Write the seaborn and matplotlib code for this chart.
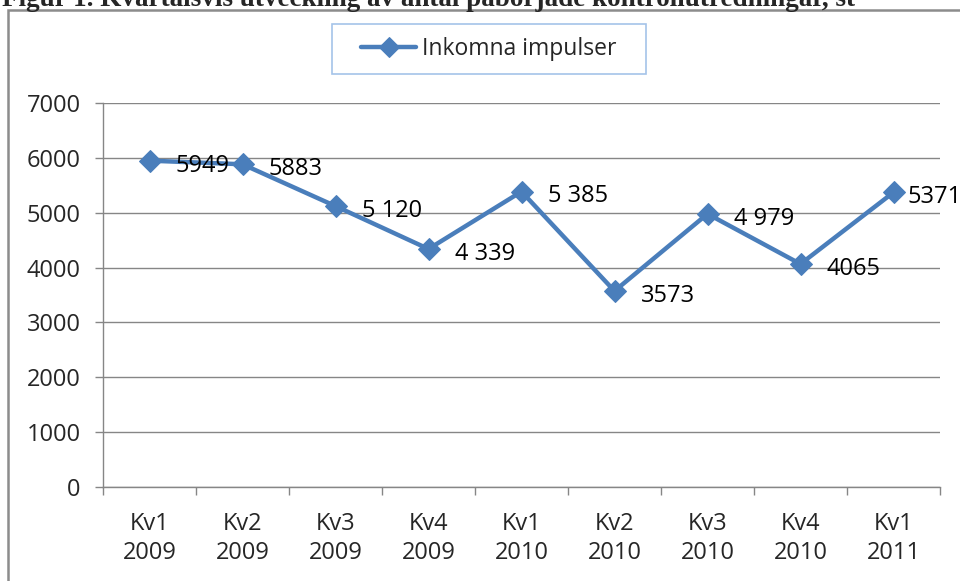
import matplotlib
matplotlib.use('Agg')
import matplotlib.pyplot as plt
import matplotlib.patches as mpatches
import seaborn as sns
import pandas as pd

# Data
quarters = ['Kv1\n2009', 'Kv2\n2009', 'Kv3\n2009', 'Kv4\n2009', 'Kv1\n2010',
            'Kv2\n2010', 'Kv3\n2010', 'Kv4\n2010', 'Kv1\n2011']
impulser = [5949, 5883, 5120, 4339, 5385, 3573, 4979, 4065, 5371]
value_labels = ['5949', '5883', '5 120', '4 339', '5 385', '3573', '4 979', '4065', '5371']
series_name = 'Inkomna impulser'
title = 'Figur 1. Kvartalsvis utveckling av antal påbörjade kontrollutredningar, st'

df = pd.DataFrame({'Kvartal': quarters, 'Antal': impulser})

sns.set_style('white')
plt.rcParams['font.family'] = ['Open Sans', 'DejaVu Sans']

blue = '#4a7ebb'
grid_gray = '#868686'

fig = plt.figure(figsize=(9.6, 5.81), dpi=100)
ax = fig.add_axes([103 / 960, 1 - 487 / 581, 837 / 960, 384 / 581])

sns.lineplot(data=df, x='Kvartal', y='Antal', ax=ax, color=blue, linewidth=3.2,
             marker='D', markersize=11, markeredgecolor=blue, label=series_name,
             sort=False)

# Data labels (the last one is pushed closer so it fits inside the chart)
for i, (v, lab) in enumerate(zip(impulser, value_labels)):
    dx = 10 if i == len(impulser) - 1 else 19
    ax.annotate(lab, (i, v), xytext=(dx, -3.5), textcoords='offset points',
                ha='left', va='center', fontsize=17, color='black',
                annotation_clip=False)

ax.set_xlim(-0.5, len(quarters) - 0.5)
ax.set_ylim(0, 7000)
ax.set_yticks(range(0, 7001, 1000))
ax.set_xlabel('')
ax.set_ylabel('')

ax.yaxis.grid(True, color=grid_gray, linewidth=1)
ax.set_axisbelow(True)
for side in ['top', 'right']:
    ax.spines[side].set_visible(False)
for side in ['left', 'bottom']:
    ax.spines[side].set_color(grid_gray)
    ax.spines[side].set_linewidth(1)

ax.tick_params(axis='y', left=True, length=6, width=1, color=grid_gray,
               pad=10, labelsize=17)
ax.tick_params(axis='x', which='major', length=0, pad=18, labelsize=17)
ax.set_xticks([i + 0.5 for i in range(-1, len(quarters))], minor=True)
ax.tick_params(axis='x', which='minor', bottom=True, length=6, width=1,
               color=grid_gray)
for t in ax.get_xticklabels():
    t.set_linespacing(1.3)

leg = ax.legend(loc='center', bbox_to_anchor=(489 / 960, 1 - 49 / 581),
                bbox_transform=fig.transFigure, fontsize=16.5, frameon=True,
                fancybox=False, handlelength=2.4, handletextpad=0.25,
                borderpad=0, borderaxespad=0)
leg.get_frame().set_edgecolor('#8eb4e3')
leg.get_frame().set_linewidth(1.2)
leg.get_frame().set_boxstyle('square', pad=1.3)
leg.get_frame().set_mutation_aspect(0.45)
for h in leg.legend_handles:
    h.set_markersize(10)

# Outer chart frame (cut off at right and bottom)
frame = mpatches.Rectangle((8 / 960, -0.2), 1.2, 1 - 10 / 581 + 0.2,
                           transform=fig.transFigure, fill=False,
                           edgecolor='#8c8c8c', linewidth=1.8, clip_on=False)
fig.patches.append(frame)

# Clipped caption at the very top
fig.text(2 / 960, 1 - 6 / 581, title, ha='left', va='baseline',
         fontsize=19.5, fontweight='bold', family='Liberation Serif')

fig.savefig('out.png', dpi=100)
